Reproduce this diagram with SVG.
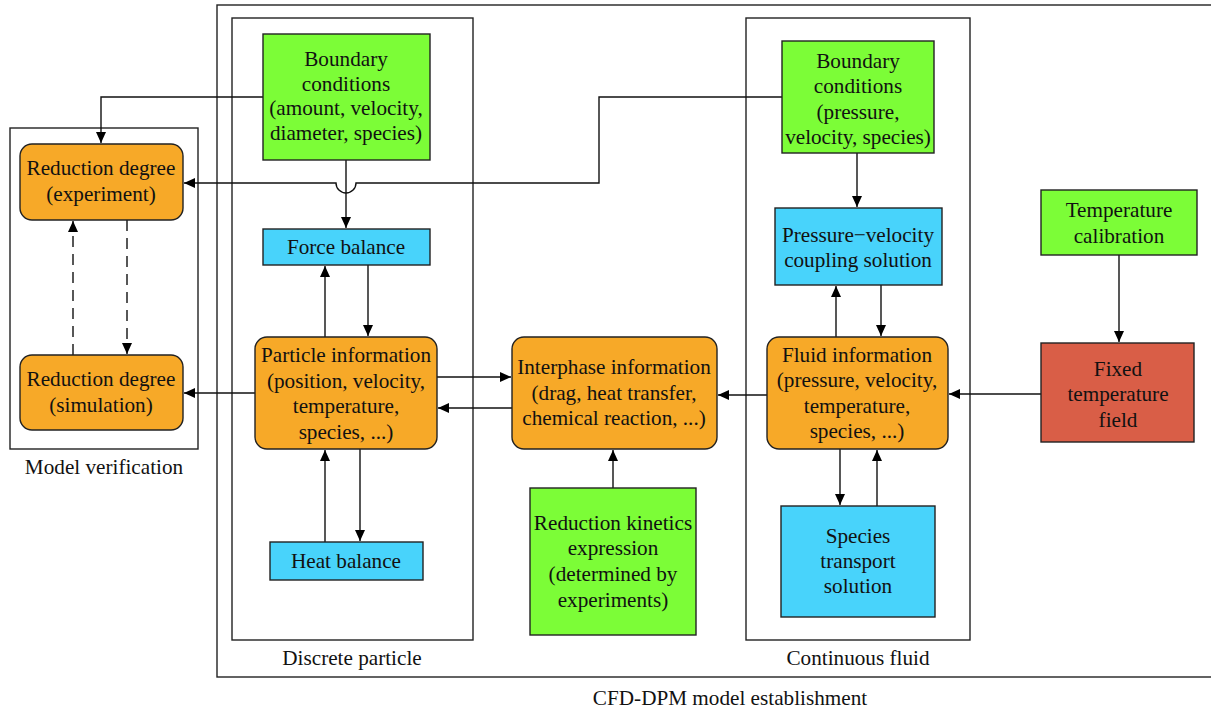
<svg xmlns="http://www.w3.org/2000/svg" width="1211" height="713" viewBox="0 0 1211 713" font-family="Liberation Serif, Times New Roman, DejaVu Serif, serif">
<style>
text{font-family:'Liberation Serif','Times New Roman','Nimbus Roman','DejaVu Serif',serif;font-size:21.2px;fill:#111;text-anchor:middle}
.frame{fill:none;stroke:#222;stroke-width:1.4}
.g{fill:#7CFD37;stroke:#222;stroke-width:1.4}
.o{fill:#F7A928;stroke:#222;stroke-width:1.4}
.b{fill:#48D3FB;stroke:#222;stroke-width:1.4}
.r{fill:#D95E47;stroke:#222;stroke-width:1.4}
.c{fill:none;stroke:#111;stroke-width:1.4}
.d{fill:none;stroke:#111;stroke-width:1.4;stroke-dasharray:11 7}
</style>
<defs>
<marker id="ah" markerWidth="11" markerHeight="10" refX="11" refY="5" orient="auto" markerUnits="userSpaceOnUse" viewBox="0 0 11 10">
<path d="M0,0 L11,5 L0,10 Z" fill="#000"/>
</marker>
</defs>
<rect fill="#fff" x="0" y="0" width="1211" height="713"/>
<g id="frames">
<rect class="frame" x="217" y="5" width="1000" height="672"/>
<text x="730" y="705">CFD-DPM model establishment</text>
<rect class="frame" x="232" y="18" width="241" height="622"/>
<text x="352" y="665">Discrete particle</text>
<rect class="frame" x="746" y="18" width="224" height="622"/>
<text x="858" y="665">Continuous fluid</text>
<rect class="frame" x="10" y="128" width="188" height="321"/>
<text x="104" y="474">Model verification</text>
</g>
<g id="connectors">
<path class="c" d="M263,97 H101 V143" marker-end="url(#ah)"/>
<path class="c" d="M782,97 H599 V183 H356 A10,10 0 0 1 336,183 H184" marker-end="url(#ah)"/>
<path class="c" d="M346,160 V228" marker-end="url(#ah)"/>
<path class="c" d="M368,265 V336" marker-end="url(#ah)"/>
<path class="c" d="M325,337 V266" marker-end="url(#ah)"/>
<path class="c" d="M360,449 V541" marker-end="url(#ah)"/>
<path class="c" d="M325,542 V450" marker-end="url(#ah)"/>
<path class="c" d="M437,377 H511" marker-end="url(#ah)"/>
<path class="c" d="M512,408 H438" marker-end="url(#ah)"/>
<path class="c" d="M255,393 H184" marker-end="url(#ah)"/>
<path class="d" d="M127,220 V354" marker-end="url(#ah)"/>
<path class="d" d="M73,355 V221" marker-end="url(#ah)"/>
<path class="c" d="M613,488 V450" marker-end="url(#ah)"/>
<path class="c" d="M767,395 H718" marker-end="url(#ah)"/>
<path class="c" d="M1041,394 H949" marker-end="url(#ah)"/>
<path class="c" d="M1119,255 V342" marker-end="url(#ah)"/>
<path class="c" d="M857,153 V207" marker-end="url(#ah)"/>
<path class="c" d="M836,337 V286" marker-end="url(#ah)"/>
<path class="c" d="M881,285 V336" marker-end="url(#ah)"/>
<path class="c" d="M840,449 V505" marker-end="url(#ah)"/>
<path class="c" d="M877,506 V450" marker-end="url(#ah)"/>
</g>
<g id="bc-particle">
<rect class="g" x="263" y="34" width="167" height="126"/>
<text x="346" y="66">Boundary</text>
<text x="346" y="91">conditions</text>
<text x="346" y="115">(amount, velocity,</text>
<text x="346" y="140">diameter, species)</text>
</g>
<g id="rd-exp">
<rect class="o" x="20" y="144" width="163" height="76" rx="12"/>
<text x="101" y="175">Reduction degree</text>
<text x="101" y="201">(experiment)</text>
</g>
<g id="rd-sim">
<rect class="o" x="20" y="355" width="163" height="75" rx="12"/>
<text x="101" y="386">Reduction degree</text>
<text x="101" y="412">(simulation)</text>
</g>
<g id="force">
<rect class="b" x="263" y="229" width="167" height="36"/>
<text x="346" y="254">Force balance</text>
</g>
<g id="particle">
<rect class="o" x="255" y="337" width="182" height="112" rx="12"/>
<text x="346" y="362">Particle information</text>
<text x="346" y="388">(position, velocity,</text>
<text x="346" y="413">temperature,</text>
<text x="346" y="439">species, ...)</text>
</g>
<g id="heat">
<rect class="b" x="270" y="542" width="153" height="38"/>
<text x="346" y="568">Heat balance</text>
</g>
<g id="interphase">
<rect class="o" x="512" y="337" width="205" height="112" rx="12"/>
<text x="614" y="374">Interphase information</text>
<text x="614" y="400">(drag, heat transfer,</text>
<text x="614" y="425">chemical reaction, ...)</text>
</g>
<g id="kinetics">
<rect class="g" x="530" y="488" width="166" height="147"/>
<text x="613" y="530">Reduction kinetics</text>
<text x="613" y="555">expression</text>
<text x="613" y="581">(determined by</text>
<text x="613" y="607">experiments)</text>
</g>
<g id="bc-fluid">
<rect class="g" x="782" y="41" width="152" height="112"/>
<text x="858" y="68">Boundary</text>
<text x="858" y="93">conditions</text>
<text x="858" y="119">(pressure,</text>
<text x="858" y="144">velocity, species)</text>
</g>
<g id="pv">
<rect class="b" x="775" y="208" width="167" height="77"/>
<text x="858" y="242">Pressure−velocity</text>
<text x="858" y="267">coupling solution</text>
</g>
<g id="fluid">
<rect class="o" x="767" y="337" width="181" height="112" rx="12"/>
<text x="857" y="362">Fluid information</text>
<text x="857" y="387">(pressure, velocity,</text>
<text x="857" y="413">temperature,</text>
<text x="857" y="438">species, ...)</text>
</g>
<g id="species">
<rect class="b" x="781" y="506" width="154" height="111"/>
<text x="858" y="543">Species</text>
<text x="858" y="568">transport</text>
<text x="858" y="593">solution</text>
</g>
<g id="tcal">
<rect class="g" x="1041" y="190" width="156" height="65"/>
<text x="1119" y="217">Temperature</text>
<text x="1119" y="243">calibration</text>
</g>
<g id="tfield">
<rect class="r" x="1041" y="343" width="153" height="99"/>
<text x="1118" y="376">Fixed</text>
<text x="1118" y="401">temperature</text>
<text x="1118" y="427">field</text>
</g>
</svg>
